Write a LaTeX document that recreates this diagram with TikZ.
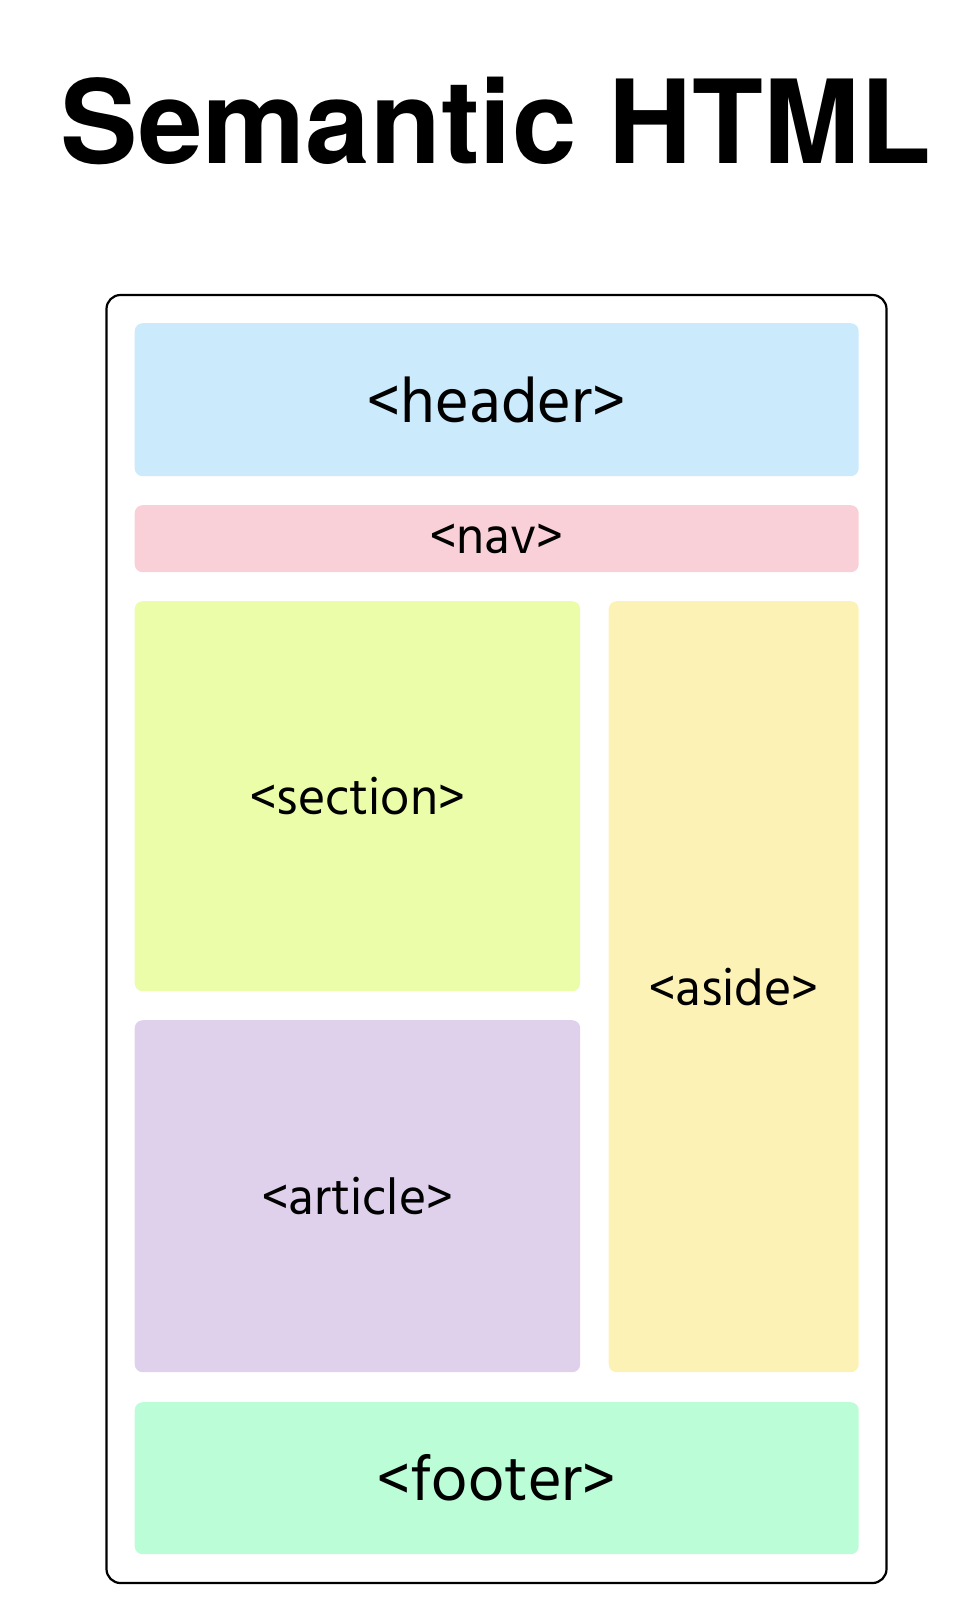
\documentclass[tikz,border=0pt]{standalone}
\usepackage{fontspec}
\setmainfont{Hind Madurai}
\newfontfamily\titlefont{TeX Gyre Heros}
\usetikzlibrary{positioning}

\definecolor{headerblue}{RGB}{203,235,253}
\definecolor{navpink}{RGB}{249,208,216}
\definecolor{sectiongreen}{RGB}{235,253,168}
\definecolor{asideyellow}{RGB}{253,242,182}
\definecolor{articlelilac}{RGB}{223,209,236}
\definecolor{footermint}{RGB}{186,253,214}

\tikzset{
    tagbox/.style={rounded corners=8pt, anchor=north west, inner sep=0pt, align=center},
    bigtag/.style={font=\fontsize{64.5}{68}\selectfont},
    midtag/.style={font=\fontsize{52}{56}\selectfont},
}

\begin{document}
\begin{tikzpicture}[x=1pt,y=-1pt]
                \useasboundingbox (0,0) rectangle (960,1622);
                % title
                \node[anchor=base, font=\titlefont\bfseries\fontsize{116}{120}\selectfont] (title) at (496,163) {Semantic HTML};
                % page frame
                \draw[line width=2.2pt, rounded corners=14pt] (106.5,295) rectangle (886.5,1583);
                % layout blocks
                \node[tagbox, bigtag, fill=headerblue, minimum width=724pt, minimum height=153pt] (header) at (134.5,323) {<header>};
                \node[tagbox, midtag, fill=navpink, minimum width=724pt, minimum height=67pt] (nav) at (134.5,505) {<nav>};
                \node[tagbox, midtag, fill=sectiongreen, minimum width=445.5pt, minimum height=390pt] (section) at (134.5,601) {<section>};
                \node[tagbox, midtag, fill=articlelilac, minimum width=445.5pt, minimum height=352pt] (article) at (134.5,1020) {<article>};
                \node[tagbox, midtag, fill=asideyellow, minimum width=250pt, minimum height=771pt] (aside) at (608.5,601) {<aside>};
                \node[tagbox, bigtag, fill=footermint, minimum width=724pt, minimum height=152pt] (footer) at (134.5,1402) {<footer>};
\end{tikzpicture}
\end{document}
